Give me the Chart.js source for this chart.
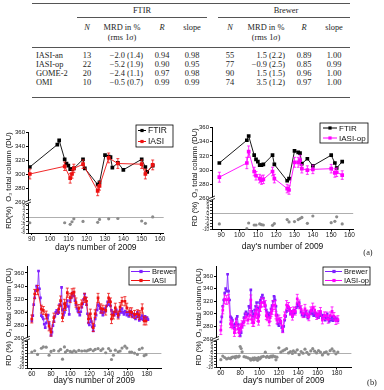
<!DOCTYPE html>
<html>
<head>
<meta charset="utf-8">
<script src="https://cdn.jsdelivr.net/npm/chart.js@4.4.1/dist/chart.umd.min.js"></script>
<style>
  body { margin: 0; width: 384px; height: 390px; background: #fff; position: relative; overflow: hidden;
         font-family: "Liberation Serif", "DejaVu Serif", serif; color: #1e1e1e; }
  .cell { position: absolute; font-size: 8.4px; line-height: 10px; white-space: nowrap; }
  .rule { position: absolute; height: 0; border-top: 0.8px solid #555; }
  canvas { position: absolute; }
</style>
</head>
<body>
<canvas id="chartTL" width="186" height="146" style="left:0;top:110px"></canvas>
<canvas id="chartTR" width="198" height="146" style="left:186px;top:110px"></canvas>
<canvas id="chartBL" width="186" height="132" style="left:0;top:258px"></canvas>
<canvas id="chartBR" width="198" height="132" style="left:186px;top:258px"></canvas>
<script>
// ---- table ----
const tableRows = ['IASI-an', 'IASI-op', 'GOME-2', 'OMI'];
const ftirN = [13, 22, 20, 10];
const ftirMrd = ['−2.0 (1.4)', '−5.2 (1.9)', '−2.4 (1.1)', '−0.5 (0.7)'];
const ftirR = ['0.94', '0.90', '0.97', '0.99'];
const ftirSlope = ['0.98', '0.95', '0.98', '0.99'];
const brewerN = [55, 77, 90, 74];
const brewerMrd = ['1.5 (2.2)', '−0.9 (2.5)', '1.5 (1.5)', '3.5 (1.2)'];
const brewerR = ['0.89', '0.85', '0.96', '0.97'];
const brewerSlope = ['1.00', '0.99', '1.00', '1.00'];

// ---- panel (a): FTIR comparison ----
const xTicksA = [90, 100, 110, 120, 130, 140, 150, 160];
const ftirDays = [89, 104, 105, 108, 109, 110, 111, 112, 113, 118, 119, 126, 127, 130, 132, 133, 134, 137, 140, 150, 152, 153, 156];
const ftirO3 = [310, 342, 348, 321, 315, 312, 307, 307, 308, 321, 308, 285, 288, 327, 325, 324, 309, 316, 306, 321, 310, 303, 312];
const anDaysA = [89, 108, 111, 112, 113, 118, 126, 127, 132, 137, 150, 152, 156];
const anO3A = [300, 311, 294, 300, 308, 314, 276, 283, 323, 315, 314, 300, 313];
const anErrA = [7, 6, 7, 6, 6, 6, 7, 6, 7, 7, 6, 7, 7];
const anRdA = [-2.7, -2.7, -3.5, -2.2, -0.7, -2.0, -2.5, -1.0, -0.7, -0.5, -1.8, -3.0, 0.3];
const opDaysA = [89, 104, 105, 108, 109, 111, 112, 113, 118, 119, 126, 127, 130, 132, 133, 134, 137, 140, 150, 152, 153, 156];
const opO3A = [290, 310, 326, 298, 292, 288, 286, 287, 298, 288, 274, 272, 311, 311, 314, 302, 300, 301, 302, 296, 297, 293];
const opErrA = [7, 8, 8, 6, 6, 6, 6, 6, 6, 6, 6, 6, 7, 7, 7, 6, 6, 6, 6, 6, 6, 6];
const opRdA = [-6.4, -9.5, -5.8, -7.1, -7.1, -6.4, -6.9, -7.1, -7.3, -6.2, -3.6, -5.1, -4.9, -3.6, -2.9, -2.2, -6.0, -1.3, -5.6, -4.7, -1.8, -6.4];

// ---- panel (b): Brewer comparison ----
const xTicksB = [60, 80, 100, 120, 140, 160, 180];
const brewerDays = [60, 61, 62, 63, 64, 65, 66, 67, 68, 69, 70, 71, 72, 73, 74, 75, 76, 77, 78, 79,
  80, 81, 82, 83, 84, 85, 86, 87, 88, 89, 90, 91, 92, 93, 94, 95, 96, 97, 98, 99,
  100, 101, 102, 103, 104, 105, 106, 107, 108, 109, 110, 111, 112, 113, 114, 115, 116, 117, 118, 119,
  120, 121, 122, 123, 124, 125, 126, 127, 128, 129, 130, 131, 132, 133, 134, 135, 136, 137, 138, 139,
  140, 141, 142, 143, 144, 145, 146, 147, 148, 149, 150, 151, 152, 153, 154, 155, 156, 157, 158, 159,
  160, 161, 162, 163, 164, 165, 166, 167, 168, 169, 170, 171, 172, 173, 174, 175, 176, 177, 178, 179, 180, 181];
const brewerO3 = [287, 295, 312, 322, 333, 340, 336, 363, 336, 322, 295, 293, 290, 282, 277, 284, 292, 296, 283, 275,
  265, 270, 280, 286, 294, 300, 303, 298, 300, 312, 310, 338, 304, 296, 300, 306, 312, 318, 309, 297,
  318, 322, 326, 330, 325, 318, 312, 306, 302, 300, 296, 301, 308, 313, 320, 328, 322, 312, 298, 284,
  281, 290, 286, 278, 272, 280, 290, 296, 304, 312, 310, 306, 300, 304, 296, 300, 306, 302, 310, 316,
  312, 318, 310, 303, 298, 300, 296, 300, 304, 298, 293, 297, 303, 300, 306, 300, 297, 302, 300, 296,
  300, 294, 298, 302, 297, 293, 298, 296, 290, 294, 300, 293, 288, 292, 290, 295, 289, 292, 294, 290, 292, 289];
const anDaysB = [60, 63, 66, 70, 72, 75, 78, 80, 83, 88, 90, 92, 94, 95, 97, 100, 102, 104, 106, 109,
  112, 115, 117, 119, 121, 124, 126, 129, 132, 134, 137, 140, 142, 143, 145, 147, 150, 152, 154, 157,
  159, 162, 164, 167, 170, 172, 175, 177, 179];
const anO3B = [290, 328, 334, 305, 303, 296, 279, 270, 292, 305, 318, 292, 313, 309, 330, 322, 329, 331, 315, 306,
  313, 322, 317, 290, 298, 277, 298, 322, 306, 305, 303, 322, 316, 290, 296, 307, 296, 308, 317, 317,
  307, 301, 300, 297, 298, 296, 306, 287, 287];
const anErrB = [6, 7, 7, 6, 6, 6, 7, 6, 7, 6, 7, 6, 7, 6, 7, 7, 7, 6, 7, 6,
  6, 7, 6, 6, 7, 6, 6, 7, 7, 6, 7, 7, 6, 7, 6, 7, 6, 7, 6, 7,
  7, 6, 7, 6, 6, 7, 7, 6, 6];
const anRdB = [0.9, 1.8, -0.7, 3.5, 4.4, 4.2, -1.3, 1.3, 2.0, 1.6, 2.7, -4.0, 4.4, 0.9, 2.0, 1.3, 0.9, 1.8, 1.1, 2.0,
  1.6, 1.8, 1.6, 2.2, 2.7, 1.8, 2.7, 3.3, 2.0, 3.1, 0.4, 3.3, 1.8, -4.2, -1.3, 2.2, 1.1, 1.6, 3.6, 4.9,
  3.6, 0.9, 0.9, 0.2, -0.7, 2.7, 3.6, -1.6, -0.9];
const opDaysB = [60, 62, 64, 66, 68, 70, 71, 72, 74, 75, 76, 78, 79, 80, 81, 82, 84, 86, 88, 90,
  91, 92, 93, 94, 95, 96, 97, 98, 99, 100, 101, 102, 104, 106, 107, 108, 110, 111, 112, 113,
  114, 116, 117, 118, 120, 122, 124, 126, 128, 130, 132, 134, 135, 137, 139, 141, 143, 145, 147, 149,
  151, 153, 155, 157, 159, 161, 163, 165, 167, 169, 171, 173, 175, 177, 179, 181];
const opO3B = [274, 306, 323, 322, 324, 284, 284, 282, 270, 275, 286, 276, 270, 277, 279, 283, 287, 295, 290, 298,
  322, 291, 286, 286, 296, 299, 307, 294, 288, 305, 311, 318, 318, 314, 297, 295, 287, 294, 302, 305,
  314, 314, 298, 290, 292, 288, 276, 297, 314, 311, 304, 296, 305, 304, 324, 315, 307, 300, 308, 300,
  295, 305, 310, 306, 297, 299, 304, 290, 297, 297, 291, 297, 304, 296, 289, 291];
const opErrB = [7, 6, 7, 7, 7, 6, 6, 6, 6, 6, 6, 6, 6, 6, 6, 6, 6, 6, 6, 7,
  8, 6, 6, 6, 6, 6, 6, 6, 6, 7, 7, 7, 7, 7, 6, 6, 6, 6, 6, 6,
  7, 7, 6, 6, 6, 6, 6, 6, 7, 7, 6, 6, 6, 6, 7, 7, 6, 6, 7, 6,
  6, 6, 7, 6, 6, 6, 6, 6, 6, 6, 6, 6, 7, 6, 6, 6];
const opRdB = [-4.5, -2.0, -3.0, -4.0, -3.5, -3.8, -3.0, -2.8, -2.5, -3.2, -2.2, -2.6, -2.0, 4.7, 3.3, 1.0, -2.4, -2.8, -3.2, -3.8,
  -4.8, -4.4, -3.5, -4.6, -3.2, -4.2, -3.6, -5.0, -3.0, -4.0, -3.4, -2.6, -2.2, 0.7, -2.8, -2.2, -3.0, -2.4, -2.0, -2.6,
  -1.8, -2.4, -4.6, -2.8, 3.8, 0.8, 1.6, 2.4, 3.2, 0.2, 1.2, -0.2, 1.6, 0.8, 2.4, -1.0, 1.2, 0, 2.8, 0.6,
  -0.8, 1.6, 3.2, 1.4, 0.2, 1.8, 0.8, -1.2, 0.4, 1.0, -0.6, 1.8, 3.0, 1.4, -0.4, 0.8];

const o3Ticks = [260, 280, 300, 320, 340, 360];
const rdTicksA = [-8, -6, -4, -2, 0, 2, 4, 6];
const rdTicksB = [-10, -8, -6, -4, -2, 0, 2, 4, 6, 8];

const SANS = '"Liberation Sans", Arial, sans-serif';
Chart.defaults.font.family = SANS;

// table as positioned text
function cell(html, x, y, align) {
    const d = document.createElement('div');
    d.className = 'cell';
    d.innerHTML = html;
    d.style.top = (y - 5) + 'px';
    if (align === 'r') d.style.right = (384 - x) + 'px';
    else d.style.left = x + 'px';
    if (align === 'c') d.style.transform = 'translateX(-50%)';
    document.body.appendChild(d);
}
function rule(x1, x2, y) {
    const d = document.createElement('div');
    d.className = 'rule';
    d.style.left = x1 + 'px';
    d.style.width = (x2 - x1) + 'px';
    d.style.top = y + 'px';
    document.body.appendChild(d);
}
rule(32, 350, 3);
rule(77, 207, 17);
rule(218, 350, 17);
rule(32, 350, 47);
rule(32, 350, 97);
cell('FTIR', 142, 11, 'c');
cell('Brewer', 286, 11, 'c');
[[87, 122, 162, 192], [230, 266, 304, 334]].forEach(c => {
    cell('<i>N</i>', c[0], 28, 'c');
    cell('MRD in %', c[1], 28, 'c');
    cell('(rms 1<i>σ</i>)', c[1], 38, 'c');
    cell('<i>R</i>', c[2], 28, 'c');
    cell('slope', c[3], 28, 'c');
});
const rowY = [56, 65, 74, 83];
tableRows.forEach((name, i) => {
    const y = rowY[i];
    cell(name, 36, y, 'l');
    cell(ftirN[i], 87, y, 'c');
    cell(ftirMrd[i], 143, y, 'r');
    cell(ftirR[i], 162, y, 'c');
    cell(ftirSlope[i], 192, y, 'c');
    cell(brewerN[i], 230, y, 'c');
    cell(brewerMrd[i], 285, y, 'r');
    cell(brewerR[i], 304, y, 'c');
    cell(brewerSlope[i], 334, y, 'c');
});
cell('(a)', 368, 253, 'c');
cell('(b)', 372, 383, 'c');

// ---- plugins ----
const errorBars = {
    id: 'errorBars',
    afterDatasetsDraw(chart) {
        const ctx = chart.ctx;
        chart.data.datasets.forEach((ds, i) => {
            if (!ds.errors) return;
            const ys = chart.scales[ds.yAxisID];
            ctx.save();
            ctx.strokeStyle = ds.borderColor;
            ctx.lineWidth = 0.8;
            chart.getDatasetMeta(i).data.forEach((pt, j) => {
                const v = ds.data[j].y, e = ds.errors[j];
                const y1 = ys.getPixelForValue(v + e), y2 = ys.getPixelForValue(v - e);
                ctx.beginPath();
                ctx.moveTo(pt.x, y1); ctx.lineTo(pt.x, y2);
                ctx.moveTo(pt.x - 1.5, y1); ctx.lineTo(pt.x + 1.5, y1);
                ctx.moveTo(pt.x - 1.5, y2); ctx.lineTo(pt.x + 1.5, y2);
                ctx.stroke();
            });
            ctx.restore();
        });
    }
};

const boxLegend = {
    id: 'boxLegend',
    afterDraw(chart, args, o) {
        const ctx = chart.ctx;
        const [bx, by, bw, bh] = o.box;
        const items = chart.data.datasets.filter(ds => ds.label);
        ctx.save();
        ctx.fillStyle = '#fff';
        ctx.fillRect(bx, by, bw, bh);
        ctx.strokeStyle = '#000';
        ctx.lineWidth = 0.8;
        ctx.strokeRect(bx, by, bw, bh);
        ctx.font = o.size + 'px ' + SANS;
        ctx.textBaseline = 'middle';
        items.forEach((ds, k) => {
            const y = by + bh * (k + 0.5) / items.length;
            ctx.strokeStyle = ds.borderColor;
            ctx.lineWidth = 1;
            ctx.beginPath();
            ctx.moveTo(bx + o.line[0], y);
            ctx.lineTo(bx + o.line[1], y);
            ctx.stroke();
            ctx.fillStyle = ds.borderColor;
            ctx.fillRect(bx + o.mark - 1.6, y - 1.6, 3.2, 3.2);
            ctx.fillStyle = '#111';
            ctx.fillText(ds.label, bx + o.text, y + 0.5);
        });
        ctx.restore();
    }
};

const axisBreak = {
    id: 'axisBreak',
    afterDraw(chart) {
        const ctx = chart.ctx;
        const x = chart.chartArea.left, y = chart.scales.y.bottom;
        ctx.save();
        ctx.fillStyle = '#fff';
        ctx.fillRect(x - 2, y - 1, 4, 2.5);
        ctx.strokeStyle = '#000';
        ctx.lineWidth = 0.8;
        ctx.beginPath();
        ctx.moveTo(x - 3, y); ctx.lineTo(x + 3, y - 2.5);
        ctx.moveTo(x - 3, y + 2.5); ctx.lineTo(x + 3, y);
        ctx.stroke();
        ctx.restore();
    }
};

function pts(days, vals) {
    return days.map((d, i) => ({ x: d, y: vals[i] }));
}

function makePanel(id, c) {
    const ctx = document.getElementById(id).getContext('2d');
    new Chart(ctx, {
        type: 'line',
        data: {
            datasets: [
                {
                    label: c.refLabel, data: pts(c.refDays, c.refVals), yAxisID: 'y', order: 2,
                    borderColor: c.refColor, backgroundColor: c.refColor, borderWidth: c.lw,
                    pointStyle: 'rect', pointRadius: c.mark, pointBorderWidth: 0, pointBackgroundColor: c.refColor
                },
                {
                    label: c.satLabel, data: pts(c.satDays, c.satVals), errors: c.satErr, yAxisID: 'y', order: 1,
                    borderColor: c.satColor, backgroundColor: c.satColor, borderWidth: c.lw,
                    pointStyle: 'rect', pointRadius: c.mark, pointBorderWidth: 0, pointBackgroundColor: c.satColor
                },
                {
                    label: '', data: pts(c.satDays, c.rd), yAxisID: 'rd', order: 3, showLine: false,
                    pointStyle: 'circle', pointRadius: 1.6, pointBorderWidth: 0,
                    pointBackgroundColor: '#8c8c8c', borderColor: '#8c8c8c'
                }
            ]
        },
        options: {
            responsive: false,
            animation: false,
            events: [],
            layout: { padding: c.pad },
            plugins: {
                legend: { display: false },
                tooltip: { enabled: false },
                boxLegend: c.legend
            },
            scales: {
                x: {
                    type: 'linear', min: c.xMin, max: c.xMax,
                    afterBuildTicks: s => { s.ticks = c.xTicks.map(v => ({ value: v })); },
                    afterFit: s => { s.height = c.xH; },
                    grid: { drawOnChartArea: false, tickLength: 2, color: '#000' },
                    border: { color: '#000', width: 1 },
                    ticks: { font: { size: 6.5 }, color: '#222', padding: 0, maxRotation: 0, autoSkip: false },
                    title: { display: true, text: "day's number of 2009", font: { size: 8.5 }, color: '#111', padding: 0 }
                },
                y: {
                    position: 'left', stack: 'v', stackWeight: c.mainW, weight: 2,
                    min: c.yMin, max: c.yMax,
                    afterBuildTicks: s => { s.ticks = o3Ticks.map(v => ({ value: v })); },
                    afterFit: s => { s.width = c.yW; },
                    grid: { drawOnChartArea: false, tickLength: 2, color: '#000' },
                    border: { color: '#000', width: 1 },
                    ticks: { font: { size: c.tickSize }, color: '#111', padding: 1, autoSkip: false },
                    title: { display: true, text: 'O₃ total column (DU)', font: { size: 7.5 }, color: '#111', padding: { top: c.titlePad, bottom: 0 } }
                },
                rd: {
                    position: 'left', stack: 'v', stackWeight: 1, weight: 1,
                    min: c.rdMin, max: c.rdMax,
                    afterBuildTicks: s => { s.ticks = c.rdTicks.map(v => ({ value: v })); },
                    afterFit: s => { s.width = c.yW; },
                    grid: {
                        drawOnChartArea: true, tickLength: 2, lineWidth: 0.8, tickColor: '#000',
                        color: g => (g.tick && g.tick.value === 0) ? '#9a9a9a' : 'rgba(0,0,0,0)'
                    },
                    border: { color: '#000', width: 1 },
                    ticks: { font: { size: 4.5 }, color: '#333', padding: 1, autoSkip: false },
                    title: { display: true, text: c.rdTitle, font: { size: 7.5 }, color: '#111', padding: { top: c.titlePad, bottom: 0 } }
                }
            }
        },
        plugins: [errorBars, boxLegend, axisBreak]
    });
}

makePanel('chartTL', {
    refLabel: 'FTIR', refDays: ftirDays, refVals: ftirO3, refColor: '#000000',
    satLabel: 'IASI', satDays: anDaysA, satVals: anO3A, satErr: anErrA, rd: anRdA, satColor: '#ee1111',
    lw: 0.9, mark: 2.6, xMin: 88, xMax: 162, xTicks: xTicksA, yMin: 260, yMax: 360,
    rdMin: -8, rdMax: 8, rdTicks: rdTicksA, rdTitle: 'RD(%)', mainW: 2.26,
    pad: { left: 2, top: 22, right: 22.3, bottom: 3 }, yW: 26, xH: 20, titlePad: 2, tickSize: 6,
    legend: { box: [136, 15, 37, 22], line: [2, 10], mark: 6, text: 12, size: 8.5 }
});
makePanel('chartTR', {
    refLabel: 'FTIR', refDays: ftirDays, refVals: ftirO3, refColor: '#000000',
    satLabel: 'IASI-op', satDays: opDaysA, satVals: opO3A, satErr: opErrA, rd: opRdA, satColor: '#ff00ff',
    lw: 0.9, mark: 2.6, xMin: 85, xMax: 162, xTicks: xTicksA, yMin: 260, yMax: 360,
    rdMin: -10, rdMax: 10, rdTicks: rdTicksB, rdTitle: 'RD (%)', mainW: 2.29,
    pad: { left: 4, top: 17.5, right: 30.8, bottom: 4.5 }, yW: 22, xH: 22, titlePad: 0.7, tickSize: 6,
    legend: { box: [134, 13, 48, 20], line: [3, 17], mark: 10, text: 19, size: 8 }
});
makePanel('chartBL', {
    refLabel: 'Brewer', refDays: brewerDays, refVals: brewerO3, refColor: '#7f1fff',
    satLabel: 'IASI', satDays: anDaysB, satVals: anO3B, satErr: anErrB, rd: anRdB, satColor: '#ee1111',
    lw: 0.8, mark: 1.9, xMin: 55, xMax: 195, xTicks: xTicksB, yMin: 260, yMax: 370,
    rdMin: -10, rdMax: 10, rdTicks: rdTicksB, rdTitle: 'RD (%)', mainW: 2.47,
    pad: { left: 2, top: 8.4, right: 24.6, bottom: 4 }, yW: 25, xH: 18, titlePad: 2, tickSize: 6,
    legend: { box: [129, 9, 47, 18], line: [2, 21], mark: 12, text: 23, size: 7.5 }
});
makePanel('chartBR', {
    refLabel: 'Brewer', refDays: brewerDays, refVals: brewerO3, refColor: '#7f1fff',
    satLabel: 'IASI-op', satDays: opDaysB, satVals: opO3B, satErr: opErrB, rd: opRdB, satColor: '#ff00ff',
    lw: 0.8, mark: 1.9, xMin: 55, xMax: 195, xTicks: xTicksB, yMin: 260, yMax: 375,
    rdMin: -10, rdMax: 10, rdTicks: rdTicksB, rdTitle: 'RD (%)', mainW: 2.53,
    pad: { left: 8, top: 8.7, right: 32.6, bottom: 4.5 }, yW: 22, xH: 18, titlePad: 0.5, tickSize: 6,
    legend: { box: [137, 9, 47, 18], line: [2, 19], mark: 11, text: 21, size: 7.5 }
});
</script>
</body>
</html>
